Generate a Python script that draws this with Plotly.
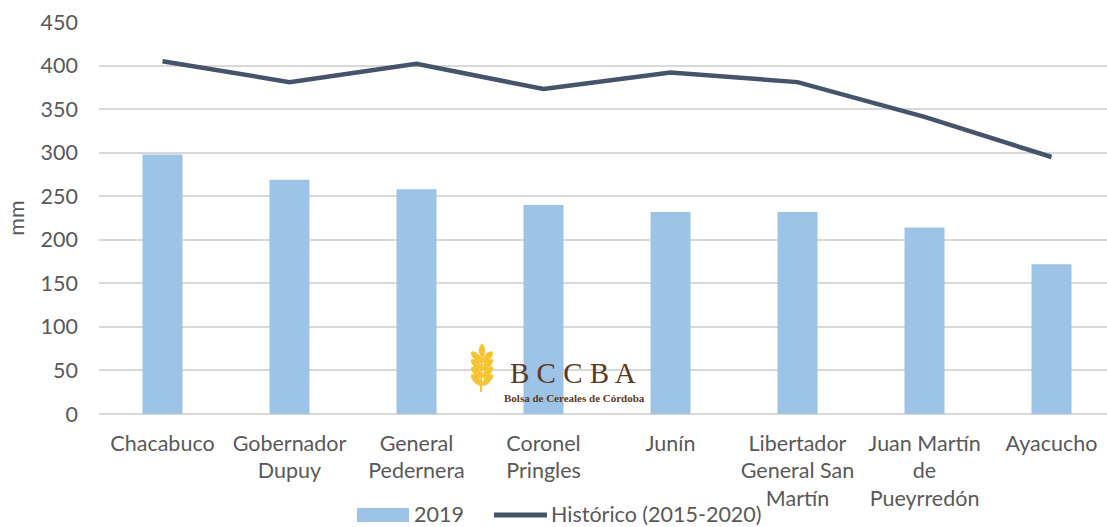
import base64
import plotly.graph_objects as go

# ---- data ----
categories = ["Chacabuco", "Gobernador Dupuy", "General Pedernera", "Coronel Pringles",
              "Junín", "Libertador General San Martín", "Juan Martín de Pueyrredón", "Ayacucho"]
tick_labels = ["Chacabuco", "Gobernador<br>Dupuy", "General<br>Pedernera", "Coronel<br>Pringles",
               "Junín", "Libertador<br>General San<br>Martín", "Juan Martín<br>de<br>Pueyrredón", "Ayacucho"]
valores_2019 = [298, 269, 258, 240, 232, 232, 214, 172]
historico = [405, 381, 402, 373, 392, 381, 341, 295]
y_ticks = [0, 50, 100, 150, 200, 250, 300, 350, 400, 450]
serie_barras = "2019"
serie_linea = "Histórico (2015-2020)"

# ---- layout geometry (pixels) ----
W, H = 1107, 527
ML, MR, MT, MB = 99, 0, 22, 113
PW = W - ML - MR
PH = H - MT - MB
FONT = "Lato, 'Open Sans', sans-serif"
FS = 21.5
TXT = "#595959"
BAR_C = "#9dc3e6"
LINE_C = "#44546a"
GRID_C = "#d9d9d9"


def px_x(px):
    return (px - ML) / PW


def px_y(py):
    return (MT + PH - py) / PH


fig = go.Figure()
fig.add_trace(go.Bar(x=categories, y=valores_2019, name=serie_barras,
                     marker=dict(color=BAR_C, line=dict(width=0)), width=0.315,
                     showlegend=False, hoverinfo="x+y"))
fig.add_trace(go.Scatter(x=categories, y=historico, name=serie_linea, mode="lines",
                         line=dict(color=LINE_C, width=4.5), showlegend=False))

# ---- manual legend ----
LEG_Y = 514
shapes = [
    dict(type="rect", xref="paper", yref="paper",
         x0=px_x(357), x1=px_x(409), y0=px_y(522), y1=px_y(508),
         fillcolor=BAR_C, line=dict(width=0), layer="above"),
    dict(type="line", xref="paper", yref="paper",
         x0=px_x(494), x1=px_x(547), y0=px_y(515), y1=px_y(515),
         line=dict(color=LINE_C, width=5), layer="above"),
]
annotations = [
    dict(text=serie_barras, xref="paper", yref="paper", x=px_x(413), y=px_y(LEG_Y),
         xanchor="left", yanchor="middle", showarrow=False, borderpad=0,
         font=dict(family=FONT, size=FS, color=TXT)),
    dict(text=serie_linea, xref="paper", yref="paper", x=px_x(550), y=px_y(LEG_Y),
         xanchor="left", yanchor="middle", showarrow=False, borderpad=0,
         font=dict(family=FONT, size=FS, color=TXT)),
    # logo text
    dict(text="B C C B A", xref="paper", yref="paper", x=px_x(573), y=px_y(373),
         xanchor="center", yanchor="middle", showarrow=False,
         font=dict(family="'Liberation Serif', 'DejaVu Serif', serif", size=29, color="#5b3a22")),
    dict(text="<b>Bolsa de Cereales de Córdoba</b>", xref="paper", yref="paper",
         x=px_x(574), y=px_y(398), xanchor="center", yanchor="middle", showarrow=False,
         font=dict(family="'Liberation Serif', 'DejaVu Serif', serif", size=11, color="#5b3a22")),
]

# wheat icon as inline SVG
leaves = []
for yy in [12, 19, 26, 33]:
    leaves.append(f'<ellipse cx="5.5" cy="{yy}" rx="2.8" ry="6.5" transform="rotate(-40 5.5 {yy})"/>')
    leaves.append(f'<ellipse cx="14.5" cy="{yy}" rx="2.8" ry="6.5" transform="rotate(40 14.5 {yy})"/>')
svg = ('<svg xmlns="http://www.w3.org/2000/svg" width="20" height="44" viewBox="0 0 20 44">'
       '<g fill="#f7c431">'
       '<ellipse cx="10" cy="6" rx="2.6" ry="6"/>' + "".join(leaves) +
       '</g><path d="M10 8 Q 9.5 26 9 44" stroke="#f7c431" stroke-width="1.6" fill="none"/></svg>')
svg_uri = "data:image/svg+xml;base64," + base64.b64encode(svg.encode()).decode()
images = [dict(source=svg_uri, xref="paper", yref="paper", x=px_x(470), y=px_y(344),
               sizex=px_x(494) - px_x(470), sizey=px_y(344) - px_y(392),
               xanchor="left", yanchor="top", sizing="stretch", layer="above")]

fig.update_layout(
    width=W, height=H,
    margin=dict(l=ML, r=MR, t=MT, b=MB, pad=0),
    paper_bgcolor="white", plot_bgcolor="white",
    font=dict(family=FONT, size=FS, color=TXT),
    showlegend=False,
    shapes=shapes, annotations=annotations, images=images,
    bargap=0.685,
    xaxis=dict(
        type="category",
        range=[-0.5, -0.5 + PW / 127.0],
        tickvals=categories, ticktext=tick_labels,
        showgrid=False, showline=False, zeroline=False,
        ticks="", ticklabelstandoff=14,
        tickfont=dict(family=FONT, size=FS, color=TXT),
        fixedrange=True,
    ),
    yaxis=dict(
        range=[0, 450],
        tickvals=y_ticks,
        showgrid=True, gridcolor=GRID_C, gridwidth=1.5,
        zeroline=True, zerolinecolor=GRID_C, zerolinewidth=1.5,
        showline=False, ticks="", ticklabelstandoff=20,
        tickfont=dict(family=FONT, size=FS, color=TXT),
        title=dict(text="mm", font=dict(family=FONT, size=FS, color=TXT), standoff=10),
        fixedrange=True,
    ),
)

fig.write_html("out.html", config=dict(displayModeBar=False),
               post_script="document.body.style.margin='0';document.body.style.overflow='hidden';")
